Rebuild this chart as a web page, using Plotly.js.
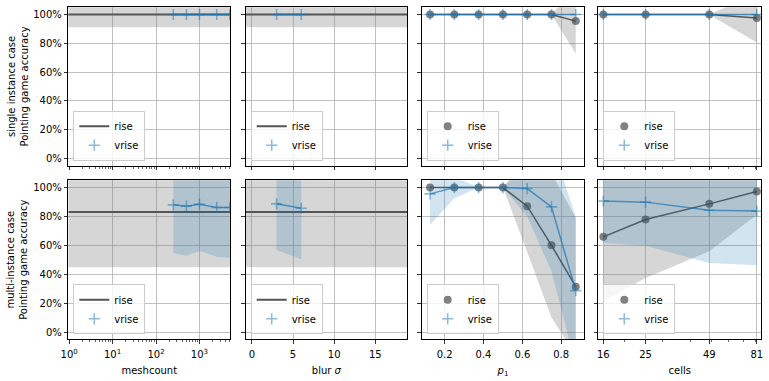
<!DOCTYPE html>
<html>
<head>
<meta charset="utf-8">
<script src="https://cdn.plot.ly/plotly-3.0.1.min.js"></script>
<style>
  html, body { margin: 0; padding: 0; background: #fff; }
  #chart { width: 769px; height: 381px; }
</style>
</head>
<body>
<div id="chart"></div>
<script>
// sweep parameters
var meshcount = [250, 500, 1000, 2500, 5000];
var blurSigma = [3, 6];
var p1 = [0.125, 0.25, 0.375, 0.5, 0.625, 0.75, 0.875];
var cells = [16, 25, 49, 81];

// rise does not depend on meshcount / blur: one mean and band per case
var riseSingleMean = 1.0, riseSingleLow = 0.912, riseSingleHigh = 1.088;
var riseMultiMean = 0.83, riseMultiLow = 0.448, riseMultiHigh = 1.212;

// vrise vs meshcount
var vriseMeshSingle = [1, 1, 1, 1, 1];
var vriseMeshMulti = [0.880, 0.871, 0.885, 0.862, 0.862];
var vriseMeshMultiLow = [0.545, 0.528, 0.561, 0.521, 0.512];
var vriseMeshMultiHigh = [1.215, 1.214, 1.209, 1.203, 1.212];

// vrise vs blur sigma
var vriseBlurSingle = [1, 1];
var vriseBlurMulti = [0.887, 0.857];
var vriseBlurMultiLow = [0.568, 0.503];
var vriseBlurMultiHigh = [1.206, 1.211];

// p1 sweep
var riseP1Single = [1, 1, 1, 1, 1, 1, 0.954];
var riseP1SingleLow = [1, 1, 1, 1, 1, 1, 0.73];
var riseP1SingleHigh = [1, 1, 1, 1, 1, 1, 1.178];
var vriseP1Single = [1, 1, 1, 1, 1, 1, 1];
var riseP1Multi = [1, 1, 1, 1, 0.871, 0.60, 0.314];
var riseP1MultiLow = [1, 1, 1, 1, 0.554, 0.10, -0.16];
var riseP1MultiHigh = [1, 1, 1, 1, 1.188, 1.10, 0.79];
var vriseP1Multi = [0.956, 1, 1, 1, 0.993, 0.866, 0.287];
var vriseP1MultiLow = [0.742, 0.926, 1, 1, 0.80, 0.42, -0.23];
var vriseP1MultiHigh = [1.17, 1.074, 1, 1, 1.186, 1.31, 0.80];

// cells sweep
var riseCellsSingle = [1, 1, 1, 0.975];
var riseCellsSingleLow = [1, 1, 1, 0.805];
var riseCellsSingleHigh = [1, 1, 1, 1.145];
var vriseCellsSingle = [1, 1, 1, 1];
var riseCellsMulti = [0.659, 0.779, 0.887, 0.972];
var riseCellsMultiLow = [0.214, 0.374, 0.559, 0.811];
var riseCellsMultiHigh = [1.104, 1.184, 1.215, 1.133];
var vriseCellsMulti = [0.906, 0.899, 0.843, 0.837];
var vriseCellsMultiLow = [0.616, 0.597, 0.478, 0.462];
var vriseCellsMultiHigh = [1.196, 1.201, 1.208, 1.212];

var GRAY_BAND = 'rgba(128,128,128,0.32)';
var BLUE_BAND = 'rgba(31,119,180,0.2)';
var RISE_LINE = '#555555';
var RISE_MARK = 'rgba(70,70,70,0.68)';
var VRISE_LINE = 'rgba(31,119,180,0.72)';
var VRISE_MARK = 'rgba(31,119,180,0.5)';

var W = 769, H = 381;
var colDom = [[68.3, 230.3], [245.7, 407], [421.7, 584.3], [598.3, 761.3]];
var rowDom = [[7.3, 165.7], [180.3, 339.3]];   // pixels from top

var xRanges = [[-0.02, 3.71], [-0.75, 18.85], [0.082, 0.919], [1.181, 1.929]];
var xIsLog = [true, false, false, true];

var traces = [];

function ids(k) {
  var s = k === 1 ? '' : String(k);
  return { x: 'x' + s, y: 'y' + s, legend: 'legend' + s };
}

function addBand(k, x, lo, hi, color) {
  var a = ids(k);
  traces.push({ x: x, y: lo, xaxis: a.x, yaxis: a.y, mode: 'lines', line: { width: 0 },
    showlegend: false, hoverinfo: 'skip' });
  traces.push({ x: x, y: hi, xaxis: a.x, yaxis: a.y, mode: 'lines', line: { width: 0 },
    fill: 'tonexty', fillcolor: color, showlegend: false, hoverinfo: 'skip' });
}

function fullSpan(col) {
  var r = xRanges[col];
  return xIsLog[col] ? [Math.pow(10, r[0]), Math.pow(10, r[1])] : [r[0], r[1]];
}

function addRiseConst(k, col, mean, lo, hi) {
  var a = ids(k), xs = fullSpan(col);
  addBand(k, xs, [lo, lo], [hi, hi], GRAY_BAND);
  traces.push({ x: xs, y: [mean, mean], xaxis: a.x, yaxis: a.y, mode: 'lines', name: 'rise',
    line: { color: RISE_LINE, width: 2 }, legend: a.legend });
}

function addRise(k, x, y, lo, hi) {
  var a = ids(k);
  addBand(k, x, lo, hi, GRAY_BAND);
  traces.push({ x: x, y: y, xaxis: a.x, yaxis: a.y, mode: 'lines', showlegend: false,
    line: { color: RISE_LINE, width: 1.5 } });
  traces.push({ x: x, y: y, xaxis: a.x, yaxis: a.y, mode: 'markers', name: 'rise', legend: a.legend,
    marker: { symbol: 'circle', size: 8, color: RISE_MARK } });
}

function addVrise(k, x, y, lo, hi) {
  var a = ids(k);
  addBand(k, x, lo || y, hi || y, BLUE_BAND);
  traces.push({ x: x, y: y, xaxis: a.x, yaxis: a.y, mode: 'lines', showlegend: false,
    line: { color: VRISE_LINE, width: 1.5 } });
  traces.push({ x: x, y: y, xaxis: a.x, yaxis: a.y, mode: 'markers', name: 'vrise', legend: a.legend,
    marker: { symbol: 'cross-thin', size: 8, color: VRISE_MARK, line: { width: 1.6, color: VRISE_MARK } } });
}

// row 1: single instance
addRiseConst(1, 0, riseSingleMean, riseSingleLow, riseSingleHigh);
addVrise(1, meshcount, vriseMeshSingle);
addRiseConst(2, 1, riseSingleMean, riseSingleLow, riseSingleHigh);
addVrise(2, blurSigma, vriseBlurSingle);
addRise(3, p1, riseP1Single, riseP1SingleLow, riseP1SingleHigh);
addVrise(3, p1, vriseP1Single);
addRise(4, cells, riseCellsSingle, riseCellsSingleLow, riseCellsSingleHigh);
addVrise(4, cells, vriseCellsSingle);

// row 2: multi-instance
addRiseConst(5, 0, riseMultiMean, riseMultiLow, riseMultiHigh);
addVrise(5, meshcount, vriseMeshMulti, vriseMeshMultiLow, vriseMeshMultiHigh);
addRiseConst(6, 1, riseMultiMean, riseMultiLow, riseMultiHigh);
addVrise(6, blurSigma, vriseBlurMulti, vriseBlurMultiLow, vriseBlurMultiHigh);
addRise(7, p1, riseP1Multi, riseP1MultiLow, riseP1MultiHigh);
addVrise(7, p1, vriseP1Multi, vriseP1MultiLow, vriseP1MultiHigh);
addRise(8, cells, riseCellsMulti, riseCellsMultiLow, riseCellsMultiHigh);
addVrise(8, cells, vriseCellsMulti, vriseCellsMultiLow, vriseCellsMultiHigh);

// axis setup
var logMinor = [];
[1, 10, 100, 1000].forEach(function (d) {
  for (var m = 2; m <= 9; m++) logMinor.push(m * d);
});
var xTicks = [
  { tickvals: [1, 10, 100, 1000], ticktext: ['10<sup>0</sup>', '10<sup>1</sup>', '10<sup>2</sup>', '10<sup>3</sup>'], minor: logMinor, title: 'meshcount' },
  { tickvals: [0, 5, 10, 15], ticktext: ['0', '5', '10', '15'], title: 'blur <i>σ</i>' },
  { tickvals: [0.2, 0.4, 0.6, 0.8], ticktext: ['0.2', '0.4', '0.6', '0.8'], title: '<i>p</i><sub>1</sub>' },
  { tickvals: cells, ticktext: cells.map(String), minor: [20, 30, 40, 50, 60, 70, 80], title: 'cells' }
];

var base = {
  showline: true, mirror: true, linecolor: '#000', linewidth: 1,
  ticks: 'outside', ticklen: 3.5, tickwidth: 0.8, tickcolor: '#000',
  showgrid: true, gridcolor: '#b0b0b0', gridwidth: 0.8, zeroline: false,
  tickfont: { size: 10, color: '#000' }
};

var layout = {
  width: W, height: H,
  margin: { l: 0, r: 0, t: 0, b: 0 },
  paper_bgcolor: '#fff', plot_bgcolor: '#fff',
  font: { family: 'DejaVu Sans, sans-serif', size: 10, color: '#000' },
  annotations: []
};

for (var row = 0; row < 2; row++) {
  for (var col = 0; col < 4; col++) {
    var k = row * 4 + col + 1;
    var s = k === 1 ? '' : String(k);
    var xd = [colDom[col][0] / W, colDom[col][1] / W];
    var yd = [1 - rowDom[row][1] / H, 1 - rowDom[row][0] / H];
    var t = xTicks[col];

    var xa = Object.assign({}, base, {
      domain: xd, anchor: 'y' + s, range: xRanges[col],
      type: xIsLog[col] ? 'log' : 'linear',
      tickmode: 'array', tickvals: t.tickvals, ticktext: t.ticktext,
      showticklabels: row === 1, ticklabelstandoff: 2
    });
    if (t.minor) {
      xa.minor = { tickmode: 'array', tickvals: t.minor, ticks: 'outside', ticklen: 2,
        tickwidth: 0.6, tickcolor: '#000', showgrid: false };
    }
    if (row === 1) xa.title = { text: t.title, font: { size: 10, color: '#000' }, standoff: 8 };
    layout['xaxis' + s] = xa;

    layout['yaxis' + s] = Object.assign({}, base, {
      domain: yd, anchor: 'x' + s, range: [-0.05, 1.05],
      tickmode: 'array', tickvals: [0, 0.2, 0.4, 0.6, 0.8, 1.0], tickformat: '.0%',
      showticklabels: col === 0
    });

    layout['legend' + s] = {
      x: xd[0] + 5 / W, y: yd[0] + 5 / H, xanchor: 'left', yanchor: 'bottom',
      bgcolor: 'rgba(255,255,255,0.8)', bordercolor: '#cccccc', borderwidth: 1,
      font: { size: 10, color: '#000' }, itemwidth: 30, tracegroupgap: 0,
      traceorder: 'normal'
    };
  }
}

var yTitles = ['single instance case<br>Pointing game accuracy', 'multi-instance case<br>Pointing game accuracy'];
yTitles.forEach(function (txt, r) {
  layout.annotations.push({
    xref: 'paper', yref: 'paper', x: 17 / W,
    y: 1 - (rowDom[r][0] + rowDom[r][1]) / 2 / H,
    text: txt, textangle: -90, showarrow: false,
    font: { size: 10, color: '#000' }, xanchor: 'center', yanchor: 'middle'
  });
});

Plotly.newPlot('chart', traces, layout, { displayModeBar: false, staticPlot: true });
</script>
</body>
</html>
